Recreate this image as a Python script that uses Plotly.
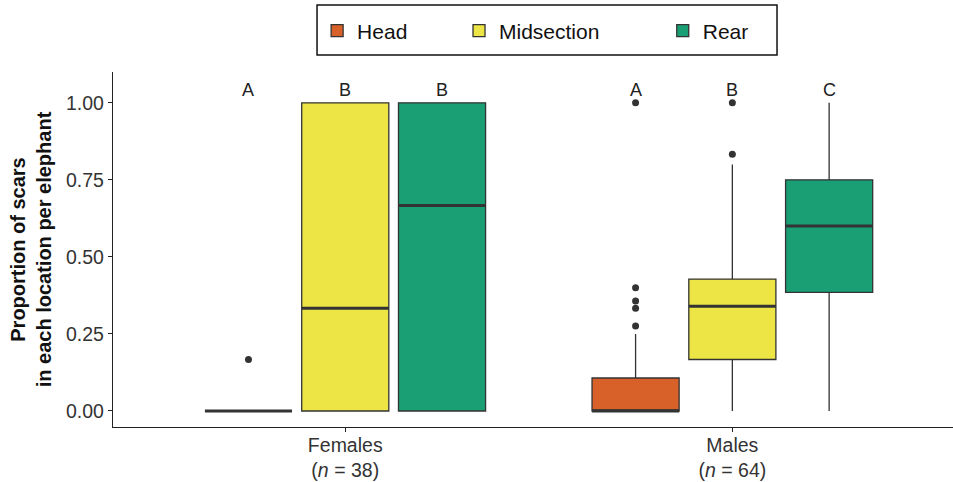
import plotly.graph_objects as go

# Groups and body locations
groups = ["Females", "Males"]
group_labels = ["Females<br>(<i>n</i> = 38)", "Males<br>(<i>n</i> = 64)"]
locations = ["Head", "Midsection", "Rear"]
colors = ["#D8612A", "#ECE545", "#1A9E74"]

# Box statistics per location: [Females, Males]
q1 = {"Head": [0.0, 0.0], "Midsection": [0.0, 0.167], "Rear": [0.0, 0.385]}
median = {"Head": [0.0, 0.0], "Midsection": [0.333, 0.34], "Rear": [0.667, 0.60]}
q3 = {"Head": [0.0, 0.107], "Midsection": [1.0, 0.428], "Rear": [1.0, 0.75]}
lower = {"Head": [0.0, 0.0], "Midsection": [0.0, 0.0], "Rear": [0.0, 0.0]}
upper = {"Head": [0.0, 0.25], "Midsection": [1.0, 0.80], "Rear": [1.0, 1.0]}

# Outlying observations per location: [Females, Males]
outliers = {
    "Head": [[0.167], [0.276, 0.333, 0.357, 0.40, 1.0]],
    "Midsection": [[], [0.833, 1.0]],
    "Rear": [[], []],
}

# Significance letters per location: [Females, Males]
letters = {"Head": ["A", "A"], "Midsection": ["B", "B"], "Rear": ["B", "C"]}

group_pos = [1, 2]
offsets = [-0.25, 0.0, 0.25]
box_w = 0.225
letter_y = 1.042
ink = "#333333"
font_family = "Liberation Sans, Arial, Helvetica, sans-serif"

# legend entries padded so the keys are spread across the frame
legend_names = {
    "Head": "Head" + "&nbsp;" * 8,
    "Midsection": "Midsection" + "&nbsp;" * 10,
    "Rear": "Rear",
}

fig = go.Figure()
for loc, off, col in zip(locations, offsets, colors):
    xs = [g + off for g in group_pos]
    fig.add_trace(go.Box(
        x=xs, q1=q1[loc], median=median[loc], q3=q3[loc],
        lowerfence=lower[loc], upperfence=upper[loc],
        width=box_w, name=legend_names[loc], fillcolor=col,
        line=dict(color=ink, width=1.3), boxpoints=False,
        whiskerwidth=0, hoverinfo="skip",
    ))

for loc, off in zip(locations, offsets):
    for gi, g in enumerate(group_pos):
        c = g + off
        # thicker median bar
        fig.add_trace(go.Scatter(
            x=[c - box_w / 2, c + box_w / 2], y=[median[loc][gi]] * 2,
            mode="lines", line=dict(color=ink, width=3),
            showlegend=False, hoverinfo="skip",
        ))
        pts = outliers[loc][gi]
        if pts:
            fig.add_trace(go.Scatter(
                x=[c] * len(pts), y=pts, mode="markers",
                marker=dict(color=ink, size=7),
                showlegend=False, hoverinfo="skip",
            ))
        fig.add_annotation(
            x=c, y=letter_y, text=letters[loc][gi], showarrow=False,
            font=dict(size=18, color="#222222"),
        )

axis_font = dict(family=font_family, size=19.5, color="#333333")

fig.update_layout(
    width=953, height=482,
    margin=dict(l=113, r=0, t=72, b=55, autoexpand=False),
    plot_bgcolor="white", paper_bgcolor="white",
    font=dict(family=font_family, color="#222222"),
    boxmode="overlay",
    showlegend=True,
    legend=dict(
        orientation="h", x=0.243, xanchor="left", y=1.1155, yanchor="middle",
        borderwidth=0, bgcolor="rgba(0,0,0,0)",
        font=dict(size=21, color="#111111"),
        itemclick=False,
    ),
    shapes=[dict(
        type="rect", xref="paper", yref="paper",
        x0=0.2429, x1=0.7905, y0=1.0479, y1=1.1887,
        line=dict(color="#111111", width=1.5), fillcolor="rgba(0,0,0,0)",
    )],
    xaxis=dict(
        range=[0.4, 2.57], tickvals=group_pos, ticktext=group_labels,
        showline=True, linecolor="#222222", linewidth=1.3,
        ticks="outside", ticklen=4, tickcolor="#222222",
        showgrid=False, zeroline=False, tickfont=axis_font,
        automargin=False, ticklabelstandoff=-4,
    ),
    yaxis=dict(
        range=[-0.052, 1.10], tickvals=[0, 0.25, 0.5, 0.75, 1.0],
        ticktext=["0.00", "0.25", "0.50", "0.75", "1.00"],
        showline=True, linecolor="#222222", linewidth=1.3,
        ticks="outside", ticklen=4, tickcolor="#222222",
        showgrid=False, zeroline=False, tickfont=axis_font,
        automargin=False,
        title=dict(
            text="<b>Proportion of scars<br>in each location per elephant</b>",
            font=dict(size=20, color="#111111"), standoff=8,
        ),
    ),
)

fig.write_html("out.html")
